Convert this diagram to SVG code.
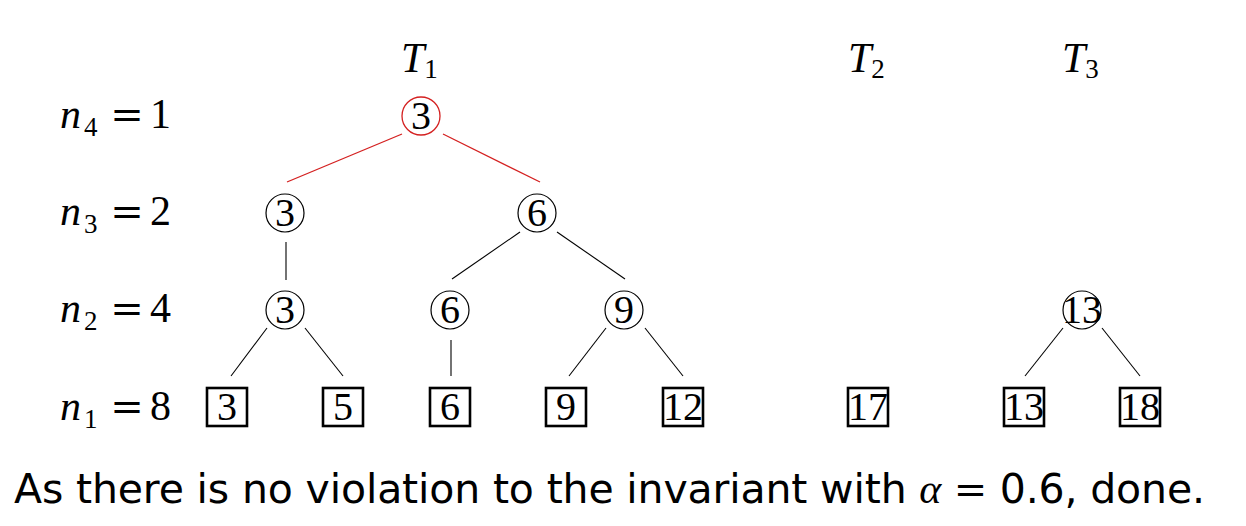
<svg xmlns="http://www.w3.org/2000/svg" width="1246" height="526" viewBox="0 0 1246 526">
<style>
.m{font-family:"Liberation Serif","DejaVu Serif",serif;fill:#000}
.lab{font-size:42px}
.it{font-style:italic}
.sub{font-size:27px}
.eq{font-family:"DejaVu Serif","Liberation Serif",serif;font-size:40px;text-anchor:middle;fill:#000}
.num{font-size:40px;text-anchor:middle}
.c{fill:none;stroke:#000;stroke-width:1.2}
.cr{fill:none;stroke:#d42020;stroke-width:1.3}
.b{fill:none;stroke:#000;stroke-width:2.6}
.e{stroke:#000;stroke-width:1.1;fill:none}
.er{stroke:#d42020;stroke-width:1.3;fill:none}
.txt{font-family:"DejaVu Sans","Liberation Sans",sans-serif;font-size:41px;fill:#000}
</style>
<rect width="1246" height="526" fill="#fff"/>
<g id="titles" class="m lab">
<text x="401" y="72"><tspan class="it">T</tspan><tspan class="sub" dy="6">1</tspan></text>
<text x="848" y="72"><tspan class="it">T</tspan><tspan class="sub" dy="6">2</tspan></text>
<text x="1062" y="72"><tspan class="it">T</tspan><tspan class="sub" dy="6">3</tspan></text>
</g>
<g id="rowlabels">
<text class="m lab it" x="60" y="128">n</text><text class="m sub" x="84" y="136">4</text><text class="eq" x="127" y="128">=</text><text class="m lab" x="150" y="128">1</text>
<text class="m lab it" x="60" y="225">n</text><text class="m sub" x="84" y="233">3</text><text class="eq" x="127" y="225">=</text><text class="m lab" x="150" y="225">2</text>
<text class="m lab it" x="60" y="322">n</text><text class="m sub" x="84" y="330">2</text><text class="eq" x="127" y="322">=</text><text class="m lab" x="150" y="322">4</text>
<text class="m lab it" x="60" y="420">n</text><text class="m sub" x="84" y="428">1</text><text class="eq" x="127" y="420">=</text><text class="m lab" x="150" y="420">8</text>
</g>
<g id="connectors">
<line class="er" x1="402" y1="134" x2="287" y2="182"/>
<line class="er" x1="443" y1="134" x2="540" y2="182"/>
<line class="e" x1="286" y1="242" x2="286" y2="280"/>
<line class="e" x1="520" y1="232" x2="452" y2="279"/>
<line class="e" x1="557" y1="232" x2="625" y2="279"/>
<line class="e" x1="267" y1="328" x2="231" y2="376"/>
<line class="e" x1="305" y1="328" x2="343" y2="376"/>
<line class="e" x1="451" y1="340" x2="451" y2="376"/>
<line class="e" x1="606" y1="328" x2="569" y2="376"/>
<line class="e" x1="645" y1="328" x2="683" y2="376"/>
<line class="e" x1="1063" y1="328" x2="1025" y2="376"/>
<line class="e" x1="1102" y1="328" x2="1140" y2="376"/>
</g>
<g id="n_root"><circle class="cr" cx="421" cy="116" r="19"/><text class="m num" x="421" y="129">3</text></g>
<g id="n_l3a"><circle class="c" cx="285" cy="213" r="19"/><text class="m num" x="285" y="226">3</text></g>
<g id="n_l3b"><circle class="c" cx="537" cy="213" r="19"/><text class="m num" x="537" y="226">6</text></g>
<g id="n_l2a"><circle class="c" cx="285" cy="310" r="19"/><text class="m num" x="285" y="323">3</text></g>
<g id="n_l2b"><circle class="c" cx="450" cy="310" r="19"/><text class="m num" x="450" y="323">6</text></g>
<g id="n_l2c"><circle class="c" cx="624" cy="310" r="19"/><text class="m num" x="624" y="323">9</text></g>
<g id="n_t3"><circle class="c" cx="1082" cy="310" r="19"/><text class="m num" x="1082" y="323">13</text></g>
<g id="leaf3"><rect class="b" x="207" y="388" width="40" height="38"/><text class="m num" x="227" y="420">3</text></g>
<g id="leaf5"><rect class="b" x="323" y="388" width="40" height="38"/><text class="m num" x="343" y="420">5</text></g>
<g id="leaf6"><rect class="b" x="430" y="388" width="40" height="38"/><text class="m num" x="450" y="420">6</text></g>
<g id="leaf9"><rect class="b" x="546" y="388" width="40" height="38"/><text class="m num" x="566" y="420">9</text></g>
<g id="leaf12"><rect class="b" x="663" y="388" width="40" height="38"/><text class="m num" x="683" y="420">12</text></g>
<g id="leaf17"><rect class="b" x="848" y="388" width="40" height="38"/><text class="m num" x="868" y="420">17</text></g>
<g id="leaf13"><rect class="b" x="1004" y="388" width="40" height="38"/><text class="m num" x="1024" y="420">13</text></g>
<g id="leaf18"><rect class="b" x="1120" y="388" width="40" height="38"/><text class="m num" x="1140" y="420">18</text></g>
<g id="caption">
<text class="txt" x="14" y="503" textLength="1191" lengthAdjust="spacing">As there is no violation to the invariant with <tspan class="m it" font-size="42">α</tspan><tspan class="eq" font-size="40"> = </tspan>0.6, done.</text>
</g>
</svg>
